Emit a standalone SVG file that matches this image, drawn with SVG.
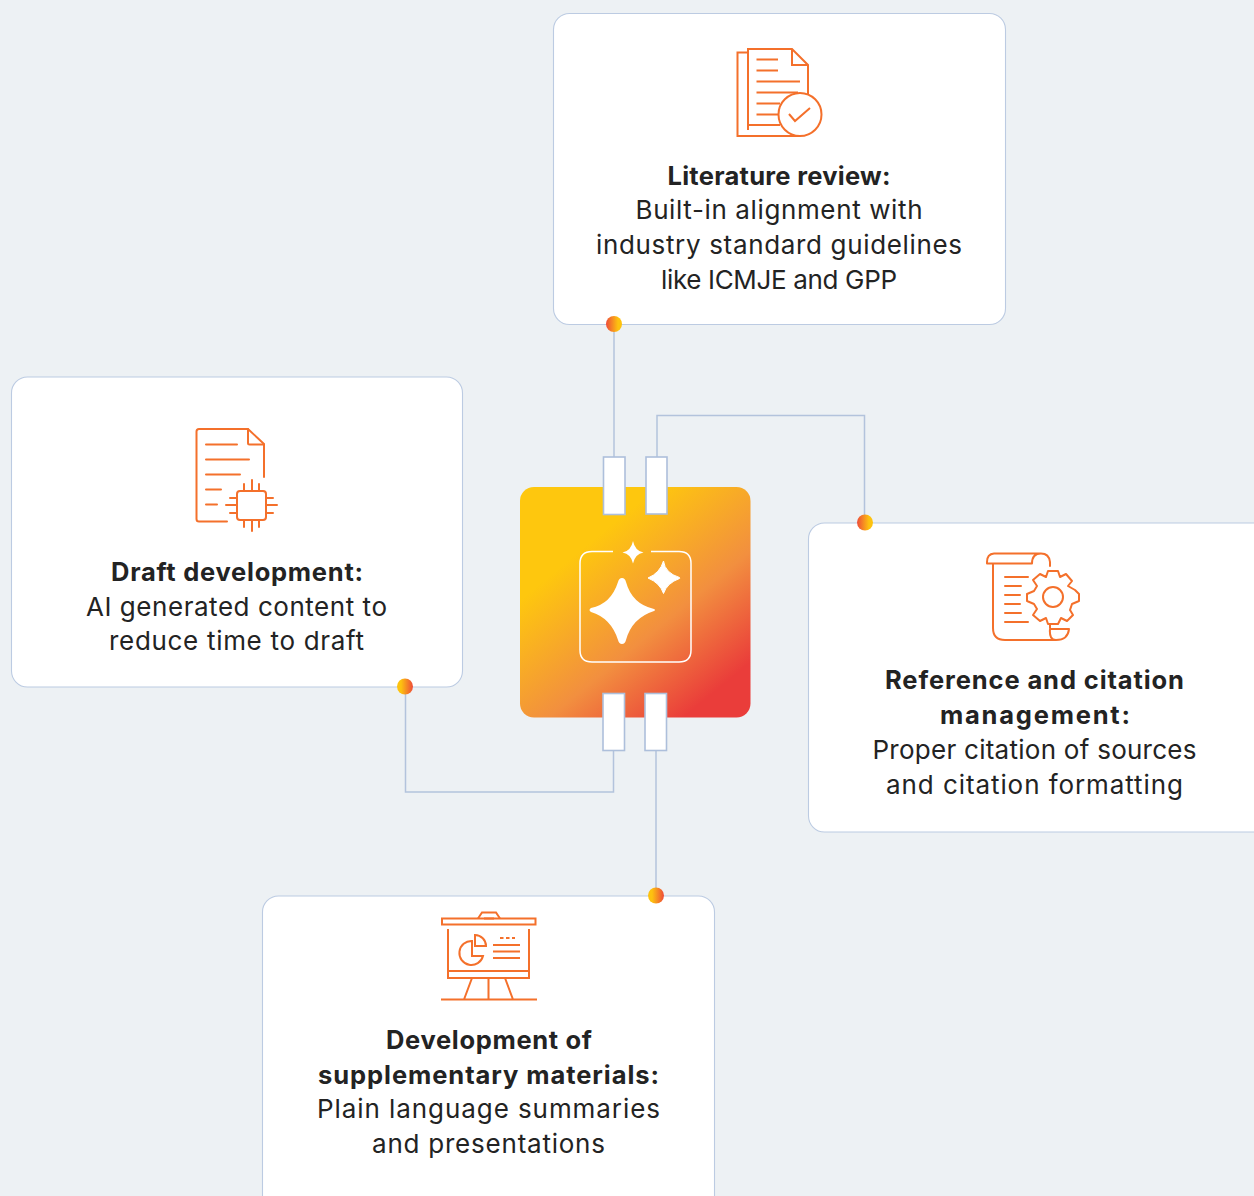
<svg xmlns="http://www.w3.org/2000/svg" width="1254" height="1196" viewBox="0 0 1254 1196">
<style>
.card{fill:#fff;stroke:#bccbe2;stroke-width:1.1}
.line{fill:none;stroke:#b3c3dc;stroke-width:1.5}
.port{fill:#fff;stroke:#adbfdb;stroke-width:1.6}
.ic{fill:none;stroke:#f4702b;stroke-width:2}
text{font-family:"Inter","Liberation Sans",sans-serif;font-size:26px;fill:#232323;text-anchor:middle}
.b{font-weight:700;font-size:25.5px}
</style>
<defs>
<linearGradient id="g" gradientUnits="userSpaceOnUse" x1="560" y1="500" x2="725" y2="700"><stop offset="0.2" stop-color="#fec70e"/><stop offset="0.62" stop-color="#f28f3f"/><stop offset="0.95" stop-color="#ea3d3a"/></linearGradient>
<linearGradient id="d1"><stop offset="0" stop-color="#ee4b39"/><stop offset="0.75" stop-color="#fdc20f"/></linearGradient>
<linearGradient id="d2"><stop offset="0.25" stop-color="#fdc20f"/><stop offset="1" stop-color="#ee4b39"/></linearGradient>
</defs>
<rect width="1254" height="1196" fill="#edf1f4"/>
<g id="connectors">
<path class="line" d="M614 324V458"/>
<path class="line" d="M657 458V415.500H864.500V522"/>
<path class="line" d="M613.500 750V792H405.500V686"/>
<path class="line" d="M656 750V895"/>
</g>
<g id="node-literature">
<rect class="card" x="553.500" y="13.500" width="452" height="311" rx="16"/>
<g class="ic">
<path d="M748 52.500H737.500V136H800"/>
<path d="M748 130V49H792L808 65V94M792 49V65H808"/>
<path d="M756.500 59.500H778M756.500 70.500H778M756.500 81.500H800M756.500 92.500H798M756.500 103.500H780M756.500 114.500H778M748 125H780"/>
<circle cx="800" cy="114.500" r="21.500"/>
<path d="M789 114L795 121L810 108"/>
</g>
<text class="b" x="779" y="185" textLength="223">Literature review:</text>
<text x="779" y="219" textLength="287">Built-in alignment with</text>
<text x="779" y="254" textLength="366">industry standard guidelines</text>
<text x="779" y="289" textLength="236">like ICMJE and GPP</text>
<circle cx="614" cy="324" r="8" fill="url(#d1)"/>
</g>
<g id="node-draft">
<rect class="card" x="11.500" y="377" width="451" height="310" rx="16"/>
<g class="ic" stroke-linecap="round" stroke-linejoin="round">
<path d="M264 477V444L248 429H199Q196.500 429 196.500 431.500V519Q196.500 521.500 199 521.500H227"/>
<path d="M248 429V443Q248 444.500 249.500 444.500H264"/>
<path d="M206 444.500H237M206 459.500H249M206 474.500H240M206 489.500H221M206 504.500H217"/>
<rect x="237" y="491" width="29" height="29" rx="3"/>
<path d="M244 491V484M252 491V480M259 491V484M244 520V527M252 520V531M259 520V527M237 498H230M237 505H226M237 513H230M266 498H273M266 505H277M266 513H273"/>
</g>
<text class="b" x="237" y="581" textLength="252">Draft development:</text>
<text x="236.500" y="616" textLength="301">AI generated content to</text>
<text x="236.500" y="650" textLength="255">reduce time to draft</text>
<circle cx="405" cy="686.500" r="8" fill="url(#d2)"/>
</g>
<g id="node-reference">
<rect class="card" x="808.500" y="523" width="460" height="309" rx="16"/>
<g class="ic" stroke-linecap="round" stroke-linejoin="round">
<path d="M1050 566V562Q1049 553.500 1041 553.500H994Q987 554 987 562V563.500H1032Q1032 553.500 1041 553.500"/>
<path d="M993 564V628Q993 640 1005 640H1056Q1068 640 1069 629H1050Q1049 640 1056 640M1050 628V625"/>
<path d="M1005 577H1028M1005 586H1021M1005 595H1020M1005 604H1020M1005 613H1021M1005 622H1028"/>
<circle cx="1053" cy="597" r="10"/>
<path d="M1048 571L1058 571L1060 577L1066 574L1072 581L1068 586L1075 590L1079 594V601L1072 604L1070 610L1073 615L1067 621L1061 618L1058 624H1048L1046 618L1040 621L1033 615L1037 609L1034 604L1027 601V594L1034 591L1037 586L1033 580L1040 574L1046 577Z"/>
</g>
<text class="b" x="1034.500" y="689" textLength="299">Reference and citation</text>
<text class="b" x="1035" y="724" textLength="190">management:</text>
<text x="1034.500" y="759" textLength="324">Proper citation of sources</text>
<text x="1034.500" y="794" textLength="297">and citation formatting</text>
<circle cx="865" cy="522.500" r="8" fill="url(#d1)"/>
</g>
<g id="node-development">
<rect class="card" x="262.500" y="896" width="452" height="320" rx="16"/>
<g class="ic">
<path d="M442 918.500H535.500V924.500H442Z"/>
<path d="M478 918.500L482 912.500H496L500 918.500M484 918.500H494"/>
<path d="M448 929V978H529V929M448 971H529"/>
<path d="M441 999.500H537M472 978L464 999.500M488.500 978V999.500M505 978L513 999.500"/>
<path d="M472 941A12 12 0 1 0 483 956H472Z"/>
<path d="M475 935A11 11 0 0 1 486 946H475Z"/>
<path d="M493 945H520M493 951.500H520M493 958H520"/>
<path d="M500 938H503.500M506 938H509.500M512 938H515"/>
</g>
<text class="b" x="489" y="1049" textLength="206">Development of</text>
<text class="b" x="488.500" y="1084" textLength="341">supplementary materials:</text>
<text x="488.500" y="1118" textLength="343">Plain language summaries</text>
<text x="488.500" y="1153" textLength="233">and presentations</text>
<circle cx="656" cy="895.500" r="8" fill="url(#d2)"/>
</g>
<g id="node-center">
<rect x="520" y="487" width="230.500" height="230.500" rx="14" fill="url(#g)"/>
<rect class="port" x="603.500" y="457" width="21.500" height="57.500"/>
<rect class="port" x="646" y="457" width="21" height="57"/>
<rect class="port" x="603" y="693.500" width="21.500" height="57"/>
<rect class="port" x="645" y="693.500" width="21.500" height="57"/>
<path d="M613 551.500H592Q580 551.500 580 563.500V650Q580 662 592 662H679Q691 662 691 650V563.500Q691 551.500 679 551.500H651" fill="none" stroke="#fff" stroke-width="1.500"/>
<g fill="#fff">
<path d="M633 541Q635 551 643.500 552.500Q635 554 633 563.500Q631 554 622.500 552.500Q631 551 633 541Z"/>
<path d="M663.500 561Q665 573 679.500 577.500Q680 578.500 679.500 578.500Q667 583 663.500 593.500Q660 583 648 578Q660 573 663.500 561Z" stroke="#fff" stroke-linejoin="round"/>
<path d="M622 578Q625 578 626 582Q632 604 654 609Q656 610 654 611Q632 618 626 640Q625 644 622 644Q619 644 618 640Q611 618 591 612Q588 610 591 608Q611 604 618 582Q619 578 622 578Z"/>
</g>
</g>
</svg>
